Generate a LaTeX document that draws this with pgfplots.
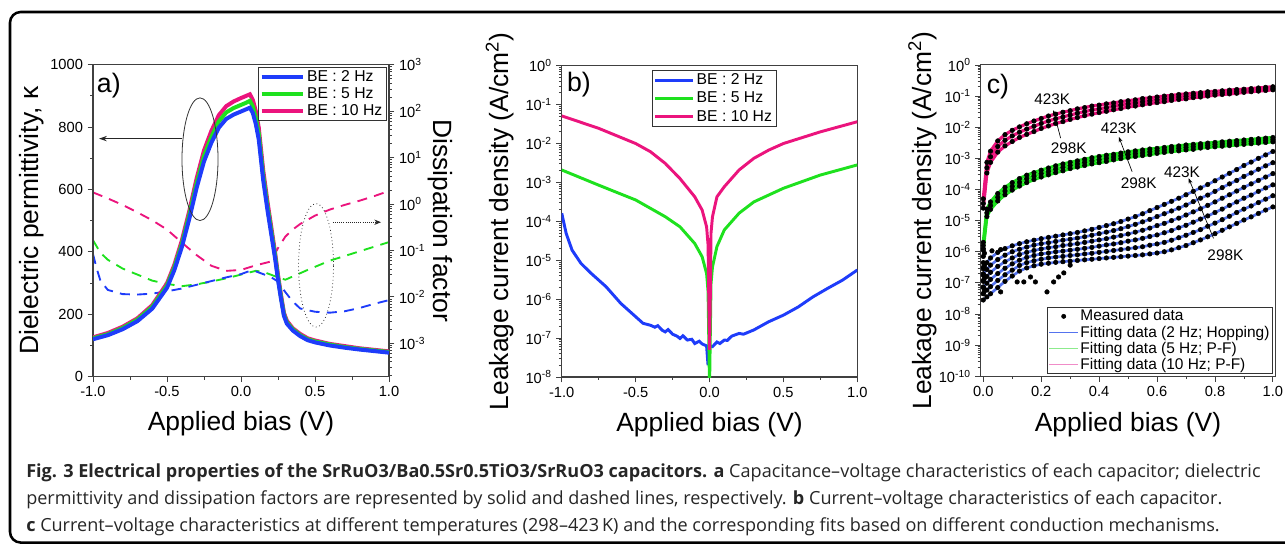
\documentclass[border=0pt]{standalone}
\usepackage{fontspec}
\setmainfont{Liberation Sans}
\newfontfamily\capfont{Open Sans}
\usepackage{pgfplots}
\usepackage{pgfplotstable}
\pgfplotsset{compat=1.18}
\usetikzlibrary{arrows.meta}

\definecolor{cblue}{RGB}{30,60,250}
\definecolor{cgreen}{RGB}{30,225,30}
\definecolor{cmag}{RGB}{235,20,125}
\definecolor{fblue}{RGB}{85,115,238}
\definecolor{lgreen}{RGB}{140,235,140}
\definecolor{lpink}{RGB}{240,140,200}

% log-decade minor tick positions (in log10 units)
\newcommand\buildminor[3]{%
  \gdef#1{}%
  \foreach \n in {#2,...,#3}{%
    \foreach \k in {0.30103,0.47712,0.60206,0.69897,0.77815,0.8451,0.90309,0.95424}{%
      \pgfmathsetmacro\mytmp{\n+\k}%
      \ifx#1\empty\xdef#1{\mytmp}\else\xdef#1{#1,\mytmp}\fi
    }%
  }%
}
\buildminor\minorA{-4}{2}
\buildminor\minorB{-8}{-1}
\buildminor\minorC{-10}{-1}

\pgfplotsset{
  panel/.style={scale only axis,
    axis line style={black!75, line width=0.8pt},
    tick style={black!75, line width=0.6pt},
    tick align=outside, major tick length=4pt, minor tick length=2.2pt,
    every tick label/.append style={font=\fontsize{11}{13}\selectfont},
    label style={font=\fontsize{19.8}{22}\selectfont},
    xtick pos=bottom, ytick pos=left},
}

% panel c: log10 of current density (A/cm^2); m = 10 Hz, g = 5 Hz, b = 2 Hz (298K ... 423K)
\pgfplotstableread{
x m1 m2 m3 g1 g2 g3 b1 b2 b3 b4 b5 b6
0 -4.30 -4.45 -4.60 -5.70 -5.80 -5.90 -7.55 -7.34 -7.13 -6.92 -6.71 -6.50
0.0125 -3.13 -3.30 -3.47 -4.63 -4.75 -4.87 -7.45 -7.23 -7.01 -6.79 -6.57 -6.35
0.025 -2.77 -2.95 -3.13 -4.40 -4.52 -4.64 -7.35 -7.12 -6.89 -6.66 -6.43 -6.20
0.05 -2.44 -2.62 -2.80 -4.13 -4.25 -4.37 -7.15 -6.92 -6.70 -6.47 -6.25 -6.02
0.075 -2.24 -2.42 -2.60 -3.93 -4.05 -4.17 -6.95 -6.74 -6.53 -6.32 -6.11 -5.90
0.1 -2.10 -2.28 -2.46 -3.78 -3.90 -4.02 -6.78 -6.59 -6.39 -6.20 -6.00 -5.81
0.125 -1.99 -2.16 -2.33 -3.65 -3.77 -3.89 -6.62 -6.44 -6.27 -6.09 -5.92 -5.74
0.15 -1.89 -2.06 -2.23 -3.54 -3.66 -3.78 -6.52 -6.35 -6.18 -6.02 -5.85 -5.68
0.175 -1.80 -1.97 -2.14 -3.46 -3.57 -3.68 -6.45 -6.29 -6.12 -5.96 -5.79 -5.63
0.2 -1.72 -1.88 -2.04 -3.38 -3.49 -3.60 -6.40 -6.24 -6.07 -5.91 -5.74 -5.58
0.225 -1.64 -1.80 -1.96 -3.31 -3.42 -3.53 -6.37 -6.20 -6.04 -5.87 -5.71 -5.54
0.25 -1.58 -1.73 -1.88 -3.24 -3.35 -3.46 -6.34 -6.17 -6.00 -5.84 -5.67 -5.50
0.275 -1.52 -1.67 -1.82 -3.18 -3.29 -3.40 -6.32 -6.15 -5.98 -5.80 -5.63 -5.46
0.3 -1.47 -1.61 -1.75 -3.13 -3.23 -3.33 -6.30 -6.12 -5.95 -5.77 -5.60 -5.42
0.325 -1.41 -1.55 -1.69 -3.08 -3.18 -3.28 -6.28 -6.10 -5.92 -5.74 -5.56 -5.38
0.35 -1.37 -1.50 -1.63 -3.03 -3.13 -3.23 -6.26 -6.07 -5.89 -5.70 -5.52 -5.33
0.375 -1.32 -1.45 -1.58 -2.98 -3.08 -3.18 -6.24 -6.05 -5.86 -5.66 -5.47 -5.28
0.4 -1.29 -1.41 -1.53 -2.94 -3.04 -3.14 -6.22 -6.02 -5.82 -5.62 -5.42 -5.22
0.425 -1.25 -1.37 -1.49 -2.90 -3.00 -3.10 -6.20 -5.99 -5.78 -5.58 -5.37 -5.16
0.45 -1.22 -1.33 -1.44 -2.87 -2.96 -3.05 -6.18 -5.96 -5.75 -5.53 -5.32 -5.10
0.475 -1.18 -1.29 -1.40 -2.83 -2.92 -3.01 -6.16 -5.93 -5.71 -5.48 -5.26 -5.03
0.5 -1.15 -1.25 -1.35 -2.79 -2.88 -2.97 -6.14 -5.90 -5.66 -5.43 -5.19 -4.95
0.525 -1.12 -1.22 -1.32 -2.76 -2.85 -2.94 -6.12 -5.87 -5.62 -5.37 -5.12 -4.87
0.55 -1.08 -1.18 -1.28 -2.73 -2.82 -2.91 -6.10 -5.84 -5.57 -5.31 -5.04 -4.78
0.575 -1.06 -1.15 -1.24 -2.70 -2.79 -2.88 -6.07 -5.79 -5.51 -5.24 -4.96 -4.68
0.6 -1.03 -1.12 -1.21 -2.68 -2.76 -2.84 -6.04 -5.75 -5.46 -5.16 -4.87 -4.58
0.625 -1.00 -1.09 -1.18 -2.65 -2.73 -2.81 -6.00 -5.70 -5.39 -5.09 -4.78 -4.48
0.65 -0.98 -1.06 -1.14 -2.62 -2.70 -2.78 -5.94 -5.63 -5.32 -5.00 -4.69 -4.38
0.675 -0.95 -1.03 -1.11 -2.60 -2.68 -2.76 -5.87 -5.55 -5.23 -4.92 -4.60 -4.28
0.7 -0.93 -1.01 -1.09 -2.57 -2.65 -2.73 -5.80 -5.47 -5.15 -4.82 -4.50 -4.17
0.725 -0.91 -0.98 -1.05 -2.55 -2.63 -2.71 -5.71 -5.38 -5.05 -4.72 -4.39 -4.06
0.75 -0.89 -0.96 -1.03 -2.53 -2.60 -2.67 -5.62 -5.29 -4.95 -4.62 -4.28 -3.95
0.775 -0.86 -0.93 -1.00 -2.51 -2.58 -2.65 -5.52 -5.18 -4.85 -4.51 -4.18 -3.84
0.8 -0.85 -0.91 -0.97 -2.49 -2.56 -2.63 -5.42 -5.08 -4.74 -4.40 -4.06 -3.72
0.825 -0.83 -0.89 -0.95 -2.47 -2.54 -2.61 -5.31 -4.97 -4.63 -4.28 -3.94 -3.60
0.85 -0.81 -0.87 -0.93 -2.45 -2.52 -2.59 -5.20 -4.86 -4.51 -4.17 -3.82 -3.48
0.875 -0.79 -0.85 -0.91 -2.43 -2.50 -2.57 -5.09 -4.74 -4.40 -4.05 -3.71 -3.36
0.9 -0.78 -0.83 -0.88 -2.41 -2.48 -2.55 -4.98 -4.63 -4.28 -3.93 -3.58 -3.23
0.925 -0.76 -0.81 -0.86 -2.39 -2.46 -2.53 -4.88 -4.53 -4.18 -3.82 -3.47 -3.12
0.95 -0.74 -0.79 -0.84 -2.37 -2.44 -2.51 -4.77 -4.42 -4.06 -3.71 -3.35 -3.00
0.975 -0.72 -0.77 -0.82 -2.35 -2.42 -2.49 -4.66 -4.31 -3.95 -3.60 -3.24 -2.89
1 -0.70 -0.75 -0.80 -2.33 -2.40 -2.47 -4.56 -4.20 -3.85 -3.49 -3.14 -2.78
}\tabC

\begin{document}
\begin{tikzpicture}
\useasboundingbox (0,0) rectangle (963.75pt,-408pt);
\draw[line width=1.9pt, rounded corners=8pt] (7.5pt,-9pt) rectangle (990pt,-406.9pt);

%================ panel a: right axis (dissipation factor, log10) ================
\begin{axis}[panel, at={(69.75pt,-282.5pt)}, anchor=south west, width=222pt, height=234pt,
  xmin=-1, xmax=1, ymin=-3.718, ymax=3,
  axis x line=none, axis y line*=right, ytick pos=right, yticklabel pos=right,
  ytick={-3,...,3},
  yticklabels={10\textsuperscript{-3},10\textsuperscript{-2},10\textsuperscript{-1},10\textsuperscript{0},10\textsuperscript{1},10\textsuperscript{2},10\textsuperscript{3}},
  minor ytick/.expanded={\minorA},
  ylabel={Dissipation factor},
  ylabel style={at={(axis description cs:1.172,0.5)}, anchor=center, rotate=180}]
\addplot[cmag, line width=1.4pt, dash pattern=on 7.5pt off 5.5pt] coordinates {
(-1,0.25) (-0.9,0.12) (-0.8,-0.02) (-0.7,-0.18) (-0.6,-0.35) (-0.5,-0.55) (-0.4,-0.83)
(-0.3,-1.1) (-0.2,-1.33) (-0.1,-1.44) (0,-1.42) (0.1,-1.32) (0.2,-1.24) (0.25,-0.95)
(0.3,-0.7) (0.35,-0.55) (0.4,-0.43) (0.5,-0.25) (0.6,-0.12) (0.7,-0.02) (0.8,0.07) (0.9,0.17) (1.0,0.28)};
\addplot[cgreen, line width=1.4pt, dash pattern=on 7.5pt off 5.5pt] coordinates {
(-1,-0.78) (-0.95,-1.05) (-0.9,-1.2) (-0.8,-1.39) (-0.7,-1.52) (-0.6,-1.65) (-0.5,-1.72)
(-0.4,-1.77) (-0.3,-1.73) (-0.2,-1.67) (-0.1,-1.6) (0,-1.52) (0.1,-1.44) (0.15,-1.46)
(0.2,-1.52) (0.25,-1.58) (0.3,-1.63) (0.35,-1.56) (0.45,-1.42) (0.6,-1.22) (0.8,-1.02) (1.0,-0.82)};
\addplot[cblue, line width=1.4pt, dash pattern=on 7.5pt off 5.5pt] coordinates {
(-1,-1.08) (-0.975,-1.39) (-0.95,-1.65) (-0.9,-1.85) (-0.8,-1.94) (-0.7,-1.95) (-0.6,-1.93)
(-0.5,-1.88) (-0.4,-1.82) (-0.3,-1.74) (-0.2,-1.66) (-0.1,-1.58) (0,-1.51) (0.06,-1.44)
(0.1,-1.45) (0.15,-1.51) (0.2,-1.57) (0.25,-1.67) (0.3,-1.9) (0.35,-2.1) (0.4,-2.25)
(0.5,-2.32) (0.6,-2.34) (0.7,-2.31) (0.8,-2.24) (0.9,-2.15) (1.0,-2.07)};
\end{axis}

%================ panel a: left axis (permittivity) ================
\begin{axis}[panel, at={(69.75pt,-282.5pt)}, anchor=south west, width=222pt, height=234pt,
  xmin=-1, xmax=1, ymin=0, ymax=1000,
  xtick={-1,-0.5,0,0.5,1}, xticklabels={-1.0,-0.5,0.0,0.5,1.0}, minor x tick num=1,
  ytick={0,200,400,600,800,1000}, yticklabels={0,200,400,600,800,1000}, minor y tick num=1,
  xlabel={Applied bias (V)}, ylabel={Dielectric permittivity, κ},
  xlabel style={at={(axis description cs:0.5,-0.173)}, anchor=base},
  ylabel style={at={(axis description cs:-0.207,0.5)}, anchor=center},
  reverse legend, legend cell align=left,
  legend image code/.code={\draw[#1] (0pt,0pt) -- (31pt,0pt);},
  legend style={at={(axis description cs:0.99,0.992)}, anchor=north east, draw=black!80,
    font=\fontsize{11.8}{13}\selectfont, inner xsep=1pt, inner ysep=0.5pt, row sep=0pt,
    nodes={inner sep=1.6pt}}]
\addplot[cmag, line width=3pt] coordinates {
(-1.0,126) (-0.9,140) (-0.8,160) (-0.7,187) (-0.6,229) (-0.5,299) (-0.45,359) (-0.4,436)
(-0.35,530) (-0.3,635) (-0.25,725) (-0.2,788) (-0.15,838) (-0.1,867) (-0.05,882) (0,893)
(0.03,899) (0.06,905) (0.08,887) (0.1,851) (0.12,798) (0.15,662) (0.18,557) (0.2,494)
(0.23,399) (0.25,326) (0.27,263) (0.29,205) (0.31,179) (0.35,155) (0.4,137) (0.45,123)
(0.5,116) (0.6,105) (0.7,98) (0.8,91) (0.9,86) (1.0,81)};
\addlegendentry{BE : 10 Hz}
\addplot[cgreen, line width=3pt] coordinates {
(-1.0,123) (-0.9,136) (-0.8,156) (-0.7,183) (-0.6,224) (-0.5,292) (-0.45,351) (-0.4,425)
(-0.35,518) (-0.3,620) (-0.25,707) (-0.2,769) (-0.15,818) (-0.1,847) (-0.05,861) (0,871)
(0.03,877) (0.06,884) (0.08,866) (0.1,830) (0.12,779) (0.15,646) (0.18,543) (0.2,482)
(0.23,390) (0.25,318) (0.27,256) (0.29,200) (0.31,174) (0.35,152) (0.4,133) (0.45,120)
(0.5,113) (0.6,103) (0.7,95) (0.8,89) (0.9,84) (1.0,79)};
\addlegendentry{BE : 5 Hz}
\addplot[cblue, line width=3pt] coordinates {
(-1.0,120) (-0.9,133) (-0.8,152) (-0.7,178) (-0.6,218) (-0.5,285) (-0.45,342) (-0.4,415)
(-0.35,505) (-0.3,605) (-0.25,690) (-0.2,750) (-0.15,798) (-0.1,826) (-0.05,840) (0,850)
(0.03,856) (0.06,862) (0.08,845) (0.1,810) (0.12,760) (0.15,630) (0.18,530) (0.2,470)
(0.23,380) (0.25,310) (0.27,250) (0.29,195) (0.31,170) (0.35,148) (0.4,130) (0.45,117)
(0.5,110) (0.6,100) (0.7,93) (0.8,87) (0.9,82) (1.0,77)};
\addlegendentry{BE : 2 Hz}
\draw[black!80, line width=0.6pt] (axis cs:-0.277,697) ellipse [x radius=13.5pt, y radius=46pt];
\draw[black!85, line width=0.6pt, -{Stealth[length=6pt,width=4pt]}] (axis cs:-0.40,763) -- (axis cs:-0.96,763);
\draw[black!80, line width=0.6pt, dotted] (axis cs:0.507,357) ellipse [x radius=13.1pt, y radius=46.3pt];
\draw[black!85, line width=0.6pt, densely dotted, -{Stealth[length=5pt,width=4pt]}] (axis cs:0.62,495) -- (axis cs:0.946,495);
\node[anchor=base west, inner sep=0, font=\fontsize{20}{22}\selectfont] at (axis description cs:0.0125,0.912) {a)};
\end{axis}

%================ panel b ================
\begin{axis}[panel, at={(421.3pt,-282.75pt)}, anchor=south west, width=221.7pt, height=233.5pt,
  xmin=-1, xmax=1, ymin=-8, ymax=0,
  xtick={-1,-0.5,0,0.5,1}, xticklabels={-1.0,-0.5,0.0,0.5,1.0}, minor x tick num=1,
  ytick={-8,...,0},
  yticklabels={10\textsuperscript{-8},10\textsuperscript{-7},10\textsuperscript{-6},10\textsuperscript{-5},10\textsuperscript{-4},10\textsuperscript{-3},10\textsuperscript{-2},10\textsuperscript{-1},10\textsuperscript{0}},
  minor ytick/.expanded={\minorB},
  xlabel={Applied bias (V)}, ylabel={Leakage current density (A/cm\textsuperscript{2})},
  xlabel style={at={(axis description cs:0.5,-0.174)}, anchor=base},
  ylabel style={at={(axis description cs:-0.209,0.5)}, anchor=center},
  legend cell align=left,
  legend image code/.code={\draw[#1] (0pt,0pt) -- (28pt,0pt);},
  legend style={at={(axis description cs:0.306,0.986)}, anchor=north west, draw=black!80,
    font=\fontsize{11.8}{13}\selectfont, inner xsep=1pt, inner ysep=0.5pt, row sep=0pt,
    nodes={inner sep=2pt}}]
\addplot[cblue, line width=2.2pt] coordinates {
(-1,-3.79) (-0.97,-4.31) (-0.93,-4.74) (-0.87,-5.08) (-0.8,-5.34) (-0.7,-5.68) (-0.6,-6.11)
(-0.5,-6.45) (-0.45,-6.62) (-0.4,-6.67) (-0.37,-6.72) (-0.35,-6.68) (-0.32,-6.80) (-0.3,-6.84)
(-0.28,-6.78) (-0.25,-6.90) (-0.22,-6.95) (-0.2,-7.01) (-0.18,-6.94) (-0.15,-7.05) (-0.12,-7.03)
(-0.1,-7.14) (-0.07,-7.08) (-0.05,-7.15) (-0.02,-7.2) (-0.01,-7.7) (0,-7.2) (0.02,-7.22)
(0.05,-7.1) (0.07,-7.14) (0.1,-7.05) (0.12,-7.06) (0.15,-6.95) (0.2,-6.88) (0.23,-6.90)
(0.3,-6.79) (0.4,-6.58) (0.5,-6.41) (0.6,-6.2) (0.7,-5.94) (0.8,-5.72) (0.9,-5.51) (1.0,-5.25)};
\addlegendentry{BE : 2 Hz}
\addplot[cgreen, line width=2.2pt] coordinates {
(-1,-2.68) (-0.75,-3.07) (-0.5,-3.45) (-0.3,-3.88) (-0.2,-4.14) (-0.1,-4.57) (-0.05,-4.91)
(-0.02,-5.34) (-0.01,-5.8) (0,-8.3) (0.01,-5.6) (0.02,-5.17) (0.05,-4.65) (0.1,-4.22)
(0.2,-3.79) (0.3,-3.5) (0.5,-3.15) (0.75,-2.81) (1,-2.55)};
\addlegendentry{BE : 5 Hz}
\addplot[cmag, line width=2.2pt] coordinates {
(-1,-1.29) (-0.75,-1.61) (-0.5,-2.0) (-0.4,-2.21) (-0.3,-2.51) (-0.2,-2.9) (-0.1,-3.37)
(-0.05,-3.71) (-0.02,-4.14) (-0.01,-4.6) (-0.005,-6.0) (0,-7.3) (0.005,-6.0) (0.01,-4.3)
(0.02,-3.88) (0.05,-3.37) (0.1,-3.11) (0.2,-2.68) (0.3,-2.38) (0.4,-2.17) (0.5,-2.0)
(0.75,-1.70) (1,-1.44)};
\addlegendentry{BE : 10 Hz}
\node[anchor=base west, inner sep=0, font=\fontsize{20}{22}\selectfont] at (axis description cs:0.017,0.916) {b)};
\end{axis}

%================ panel c ================
\begin{axis}[panel, at={(735.5pt,-282.2pt)}, anchor=south west, width=220.9pt, height=233.5pt,
  xmin=-0.009, xmax=1.008, ymin=-10, ymax=0,
  xtick={0,0.2,0.4,0.6,0.8,1}, xticklabels={0.0,0.2,0.4,0.6,0.8,1.0}, minor x tick num=1,
  ytick={-10,...,0},
  yticklabels={10\textsuperscript{-10},10\textsuperscript{-9},10\textsuperscript{-8},10\textsuperscript{-7},10\textsuperscript{-6},10\textsuperscript{-5},10\textsuperscript{-4},10\textsuperscript{-3},10\textsuperscript{-2},10\textsuperscript{-1},10\textsuperscript{0}},
  minor ytick/.expanded={\minorC},
  xlabel={Applied bias (V)}, ylabel={Leakage current density (A/cm\textsuperscript{2})},
  xlabel style={at={(axis description cs:0.5,-0.176)}, anchor=base},
  ylabel style={at={(axis description cs:-0.198,0.5)}, anchor=center},
  legend cell align=left,
  legend style={at={(axis description cs:0.991,0.008)}, anchor=south east, draw=black!80,
    font=\fontsize{11.6}{12}\selectfont, inner xsep=1pt, inner ysep=0.5pt, row sep=0pt,
    nodes={inner sep=1.1pt}}]
\pgfplotsinvokeforeach{m1,m2,m3,g1,g2,g3,b1,b2,b3,b4,b5,b6}{
  \addplot[only marks, mark=*, mark size=1.7pt, black, forget plot] table[x=x,y=#1]{\tabC};
}
\addplot[only marks, mark=*, mark size=1.7pt, black, forget plot] coordinates {
(0,-5.95) (0,-6.15) (0,-6.35) (0,-6.55) (0,-6.75) (0,-6.95) (0,-7.15) (0,-7.35)
(0.004,-6.05) (0.004,-6.45) (0.004,-6.85) (0.004,-7.25) (0.03,-5.97) (0.06,-5.93)
(0.06,-7.29) (0.117,-6.97) (0.14,-6.97) (0.163,-6.81) (0.18,-6.97) (0.22,-7.29)
(0.243,-6.97) (0.26,-6.81) (0.278,-6.68) (0.30,-6.43)};
\pgfplotsinvokeforeach{b1,b2,b3,b4,b5,b6}{
  \addplot[fblue, line width=2pt, forget plot] table[x=x,y=#1]{\tabC};
}
\pgfplotsinvokeforeach{g1,g2,g3}{
  \addplot[cgreen, line width=2.4pt, forget plot] table[x=x,y=#1]{\tabC};
}
\pgfplotsinvokeforeach{m1,m2,m3}{
  \addplot[cmag, line width=2.4pt, forget plot] table[x=x,y=#1]{\tabC};
}
\addlegendimage{legend image code/.code={\fill[black] (11pt,0pt) circle (1.6pt);}}
\addlegendentry{Measured data}
\addlegendimage{legend image code/.code={\draw[fblue, line width=0.8pt] (0pt,0pt) -- (22pt,0pt);}}
\addlegendentry{Fitting data (2 Hz; Hopping)}
\addlegendimage{legend image code/.code={\draw[lgreen, line width=0.8pt] (0pt,0pt) -- (22pt,0pt);}}
\addlegendentry{Fitting data (5 Hz; P-F)}
\addlegendimage{legend image code/.code={\draw[lpink, line width=0.8pt] (0pt,0pt) -- (22pt,0pt);}}
\addlegendentry{Fitting data (10 Hz; P-F)}
\begin{scope}[every node/.style={font=\fontsize{11.5}{12}\selectfont, inner sep=0.5pt}]
\node at (axis cs:0.238,-1.09) {423K};
\node at (axis cs:0.295,-2.68) {298K};
\draw[black, line width=0.5pt, -{Stealth[length=4pt,width=3pt]}] (axis cs:0.267,-2.35) -- (axis cs:0.242,-1.45);
\node at (axis cs:0.468,-2.04) {423K};
\node at (axis cs:0.537,-3.80) {298K};
\draw[black, line width=0.5pt, -{Stealth[length=4pt,width=3pt]}] (axis cs:0.514,-3.43) -- (axis cs:0.468,-2.31);
\node at (axis cs:0.686,-3.43) {423K};
\node at (axis cs:0.836,-6.11) {298K};
\draw[black, line width=0.5pt, -{Stealth[length=4pt,width=3pt]}] (axis cs:0.795,-5.57) -- (axis cs:0.709,-3.64);
\end{scope}
\node[anchor=base west, inner sep=0, font=\fontsize{20}{22}\selectfont] at (axis description cs:0.02,0.909) {c)};
\end{axis}

%================ caption ================
\begin{scope}[every node/.style={anchor=base west, inner sep=0, text=black!85, font=\capfont\fontsize{13.55}{16}\selectfont}]
\node at (19.5pt,-357.75pt) {\textbf{Fig. 3 Electrical properties of the SrRuO3/Ba0.5Sr0.5TiO3/SrRuO3 capacitors. a} Capacitance–voltage characteristics of each capacitor; dielectric};
\node at (19.5pt,-378pt) {permittivity and dissipation factors are represented by solid and dashed lines, respectively. \textbf{b} Current–voltage characteristics of each capacitor.};
\node at (19.5pt,-398.25pt) {\textbf{c} Current–voltage characteristics at different temperatures (298–423\,K) and the corresponding fits based on different conduction mechanisms.};
\end{scope}
\end{tikzpicture}
\end{document}
